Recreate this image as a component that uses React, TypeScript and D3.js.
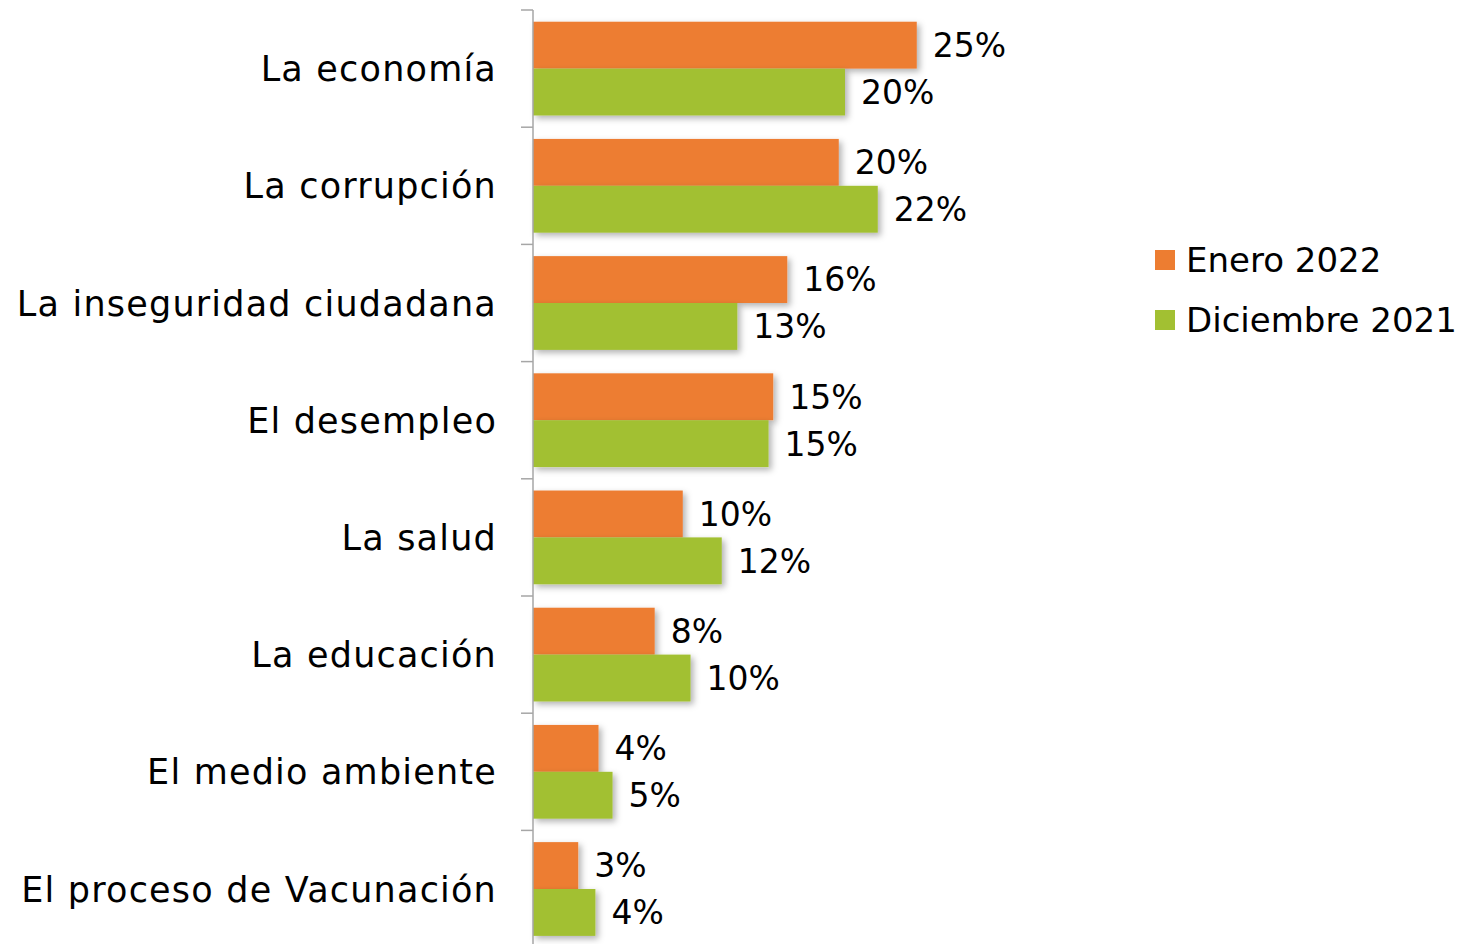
import React, { useEffect, useRef } from "react";
import * as d3 from "d3";

// chart data
const categories = [
  "La economía",
  "La corrupción",
  "La inseguridad ciudadana",
  "El desempleo",
  "La salud",
  "La educación",
  "El medio ambiente",
  "El proceso de Vacunación",
];
const seriesNames = ["Enero 2022", "Diciembre 2021"];
const enero2022 = [24.6, 19.6, 16.3, 15.4, 9.6, 7.8, 4.2, 2.9];
const diciembre2021 = [20.0, 22.1, 13.1, 15.1, 12.1, 10.1, 5.1, 4.0];
const eneroLabels = ["25%", "20%", "16%", "15%", "10%", "8%", "4%", "3%"];
const diciembreLabels = ["20%", "22%", "13%", "15%", "12%", "10%", "5%", "4%"];

const colors = ["#ED7D31", "#A2C032"];
const FONT = "'DejaVu Sans', sans-serif";

const App = () => {
  const ref = useRef<SVGSVGElement>(null);

  useEffect(() => {
    const width = 1461,
      height = 944;
    const svg = d3.select(ref.current);
    svg.selectAll("*").remove();
    svg.attr("width", width).attr("height", height);

    // soft shadow on the bars
    const defs = svg.append("defs");
    defs
      .append("filter")
      .attr("id", "barShadow")
      .attr("x", "-10%")
      .attr("y", "-20%")
      .attr("width", "130%")
      .attr("height", "160%")
      .append("feDropShadow")
      .attr("dx", 3)
      .attr("dy", 3)
      .attr("stdDeviation", 3)
      .attr("flood-color", "#000")
      .attr("flood-opacity", 0.3);

    const y = d3
      .scaleBand<string>()
      .domain(categories)
      .range([10, 947.6])
      .paddingInner(0.2)
      .paddingOuter(0.1);

    const ySub = d3
      .scaleBand<string>()
      .domain(seriesNames)
      .range([0, y.bandwidth()]);

    const x = d3.scaleLinear().domain([0, 30]).range([533, 1001]);

    const series = [
      { name: seriesNames[0], values: enero2022, labels: eneroLabels },
      { name: seriesNames[1], values: diciembre2021, labels: diciembreLabels },
    ];

    // bars
    series.forEach((s, si) => {
      svg
        .append("g")
        .selectAll("rect")
        .data(categories)
        .enter()
        .append("rect")
        .attr("x", x(0))
        .attr("y", (c) => (y(c) as number) + (ySub(s.name) as number))
        .attr("width", (c, i) => x(s.values[i]) - x(0))
        .attr("height", ySub.bandwidth())
        .attr("fill", colors[si])
        .attr("filter", "url(#barShadow)");
    });

    // value labels
    series.forEach((s) => {
      svg
        .append("g")
        .selectAll("text")
        .data(categories)
        .enter()
        .append("text")
        .attr("x", (c, i) => x(s.values[i]) + 16)
        .attr("y", (c) => (y(c) as number) + (ySub(s.name) as number) + ySub.bandwidth() / 2)
        .attr("dy", "0.36em")
        .attr("font-family", FONT)
        .attr("font-size", 33)
        .attr("fill", "#000")
        .text((c, i) => s.labels[i]);
    });

    // category axis
    const step = y.step();
    const axis = svg.append("g").attr("stroke", "#A6A6A6").attr("stroke-width", 1.5);
    axis
      .append("line")
      .attr("x1", x(0))
      .attr("x2", x(0))
      .attr("y1", 10)
      .attr("y2", 10 + step * categories.length);
    axis
      .selectAll("line.tick")
      .data(d3.range(categories.length + 1))
      .enter()
      .append("line")
      .attr("class", "tick")
      .attr("x1", x(0) - 12)
      .attr("x2", x(0))
      .attr("y1", (i) => 10 + i * step)
      .attr("y2", (i) => 10 + i * step);

    svg
      .append("g")
      .selectAll("text")
      .data(categories)
      .enter()
      .append("text")
      .attr("x", 497)
      .attr("y", (c) => (y(c) as number) + y.bandwidth() / 2)
      .attr("dy", "0.36em")
      .attr("text-anchor", "end")
      .attr("font-family", FONT)
      .attr("font-size", 35)
      .attr("letter-spacing", 1.2)
      .attr("fill", "#000")
      .text((c) => c);

    // legend
    const legend = svg
      .append("g")
      .selectAll("g")
      .data(seriesNames)
      .enter()
      .append("g")
      .attr("transform", (d, i) => `translate(1155,${260 + i * 60})`);
    legend
      .append("rect")
      .attr("x", 0)
      .attr("y", -10)
      .attr("width", 20)
      .attr("height", 20)
      .attr("fill", (d, i) => colors[i]);
    legend
      .append("text")
      .attr("x", 31)
      .attr("y", 0)
      .attr("dy", "0.36em")
      .attr("font-family", FONT)
      .attr("font-size", 34)
      .attr("fill", "#000")
      .text((d) => d);
  }, []);

  return <svg ref={ref} style={{ position: "absolute", left: 0, top: 0 }}></svg>;
};

export default App;
